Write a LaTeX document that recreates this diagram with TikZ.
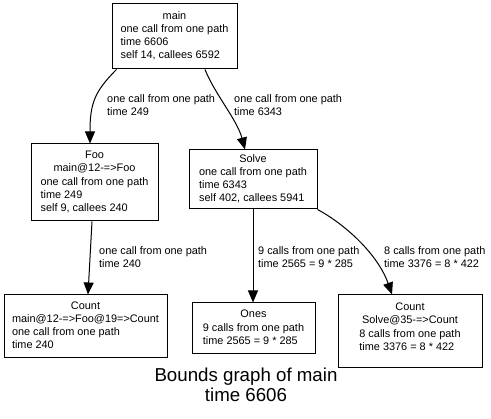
\documentclass[tikz,border=0pt]{standalone}
\usepackage{fontspec}
\setmainfont{Liberation Sans}
\usetikzlibrary{arrows.meta}
\newcommand{\gvfont}{\fontsize{10.9}{13.2}\selectfont}
\newcommand{\gvtitle}{\fontsize{18.7}{20.5}\selectfont}
\newcommand{\fnhead}[1]{\multicolumn{1}{@{}c@{}}{#1}}

\begin{document}
\begin{tikzpicture}[x=1pt, y=-1pt,
    fnode/.style={draw, line width=1pt, inner sep=0pt, font=\gvfont},
    call/.style={-{Triangle[length=12pt,width=10pt]}, line width=1pt},
    lbl/.style={anchor=west, align=left, inner sep=0pt, font=\gvfont}]
    % Canvas
    \fill[white] (0,0) rectangle (491,419);

    % Functions
    \node[fnode, minimum width=125pt, minimum height=65pt] (main) at (174.5,36.5)
        {\begin{tabular}{@{}l@{}}\fnhead{main}\\one call from one path\\time 6606\\self 14, callees 6592\end{tabular}};
    \node[fnode, minimum width=127pt, minimum height=77pt] (foo) at (94.5,182.5)
        {\begin{tabular}{@{}l@{}}\fnhead{Foo}\\\fnhead{main@12-=>Foo}\\one call from one path\\time 249\\self 9, callees 240\end{tabular}};
    \node[fnode, minimum width=128pt, minimum height=59pt] (solve) at (253,179.5)
        {\begin{tabular}{@{}l@{}}\fnhead{Solve}\\one call from one path\\time 6343\\self 402, callees 5941\end{tabular}};
    \node[fnode, minimum width=163pt, minimum height=63pt] (countA) at (85.5,326.5)
        {\begin{tabular}{@{}l@{}}\fnhead{Count}\\\fnhead{main@12-=>Foo@19=>Count}\\one call from one path\\time 240\end{tabular}};
    \node[fnode, minimum width=123pt, minimum height=51pt] (ones) at (253.5,328.5)
        {\begin{tabular}{@{}l@{}}\fnhead{Ones}\\\fnhead{9 calls from one path}\\time 2565 = 9 * 285\end{tabular}};
    \node[fnode, minimum width=144pt, minimum height=73pt] (countB) at (410,331.5)
        {\begin{tabular}{@{}l@{}}\fnhead{Count}\\\fnhead{Solve@35-=>Count}\\\fnhead{8 calls from one path}\\time 3376 = 8 * 422\\[-6pt]\mbox{}\end{tabular}};

    % Calls
    \draw[call] ([xshift=5pt]main.south west) .. controls +(-22,22) and +(0,-40) .. ([xshift=-4.5pt]foo.north);
    \draw[call] ([xshift=30.5pt]main.south) .. controls +(10,25) and +(-8,-30) .. ([xshift=-8pt]solve.north);
    \draw[call] ([xshift=-2.5pt]foo.south) -- ([xshift=2.5pt]countA.north);
    \draw[call] (solve.south) -- (solve.south |- ones.north);
    \draw[call] (solve.south east) .. controls +(28,15) and +(-14,-40) .. ([xshift=-18pt]countB.north);

    % Call labels
    \node[lbl] (lfoo) at (107,105.5) {one call from one path\\time 249};
    \node[lbl] (lsolve) at (234,105.5) {one call from one path\\time 6343};
    \node[lbl] (lcountA) at (99,257.5) {one call from one path\\time 240};
    \node[lbl] (lones) at (258,257.5) {9 calls from one path\\time 2565 = 9 * 285};
    \node[lbl] (lcountB) at (384,257.5) {8 calls from one path\\time 3376 = 8 * 422};

    % Title
    \node[font=\gvtitle, align=center] (title) at (246,385) {Bounds graph of main\\time 6606};
\end{tikzpicture}
\end{document}
